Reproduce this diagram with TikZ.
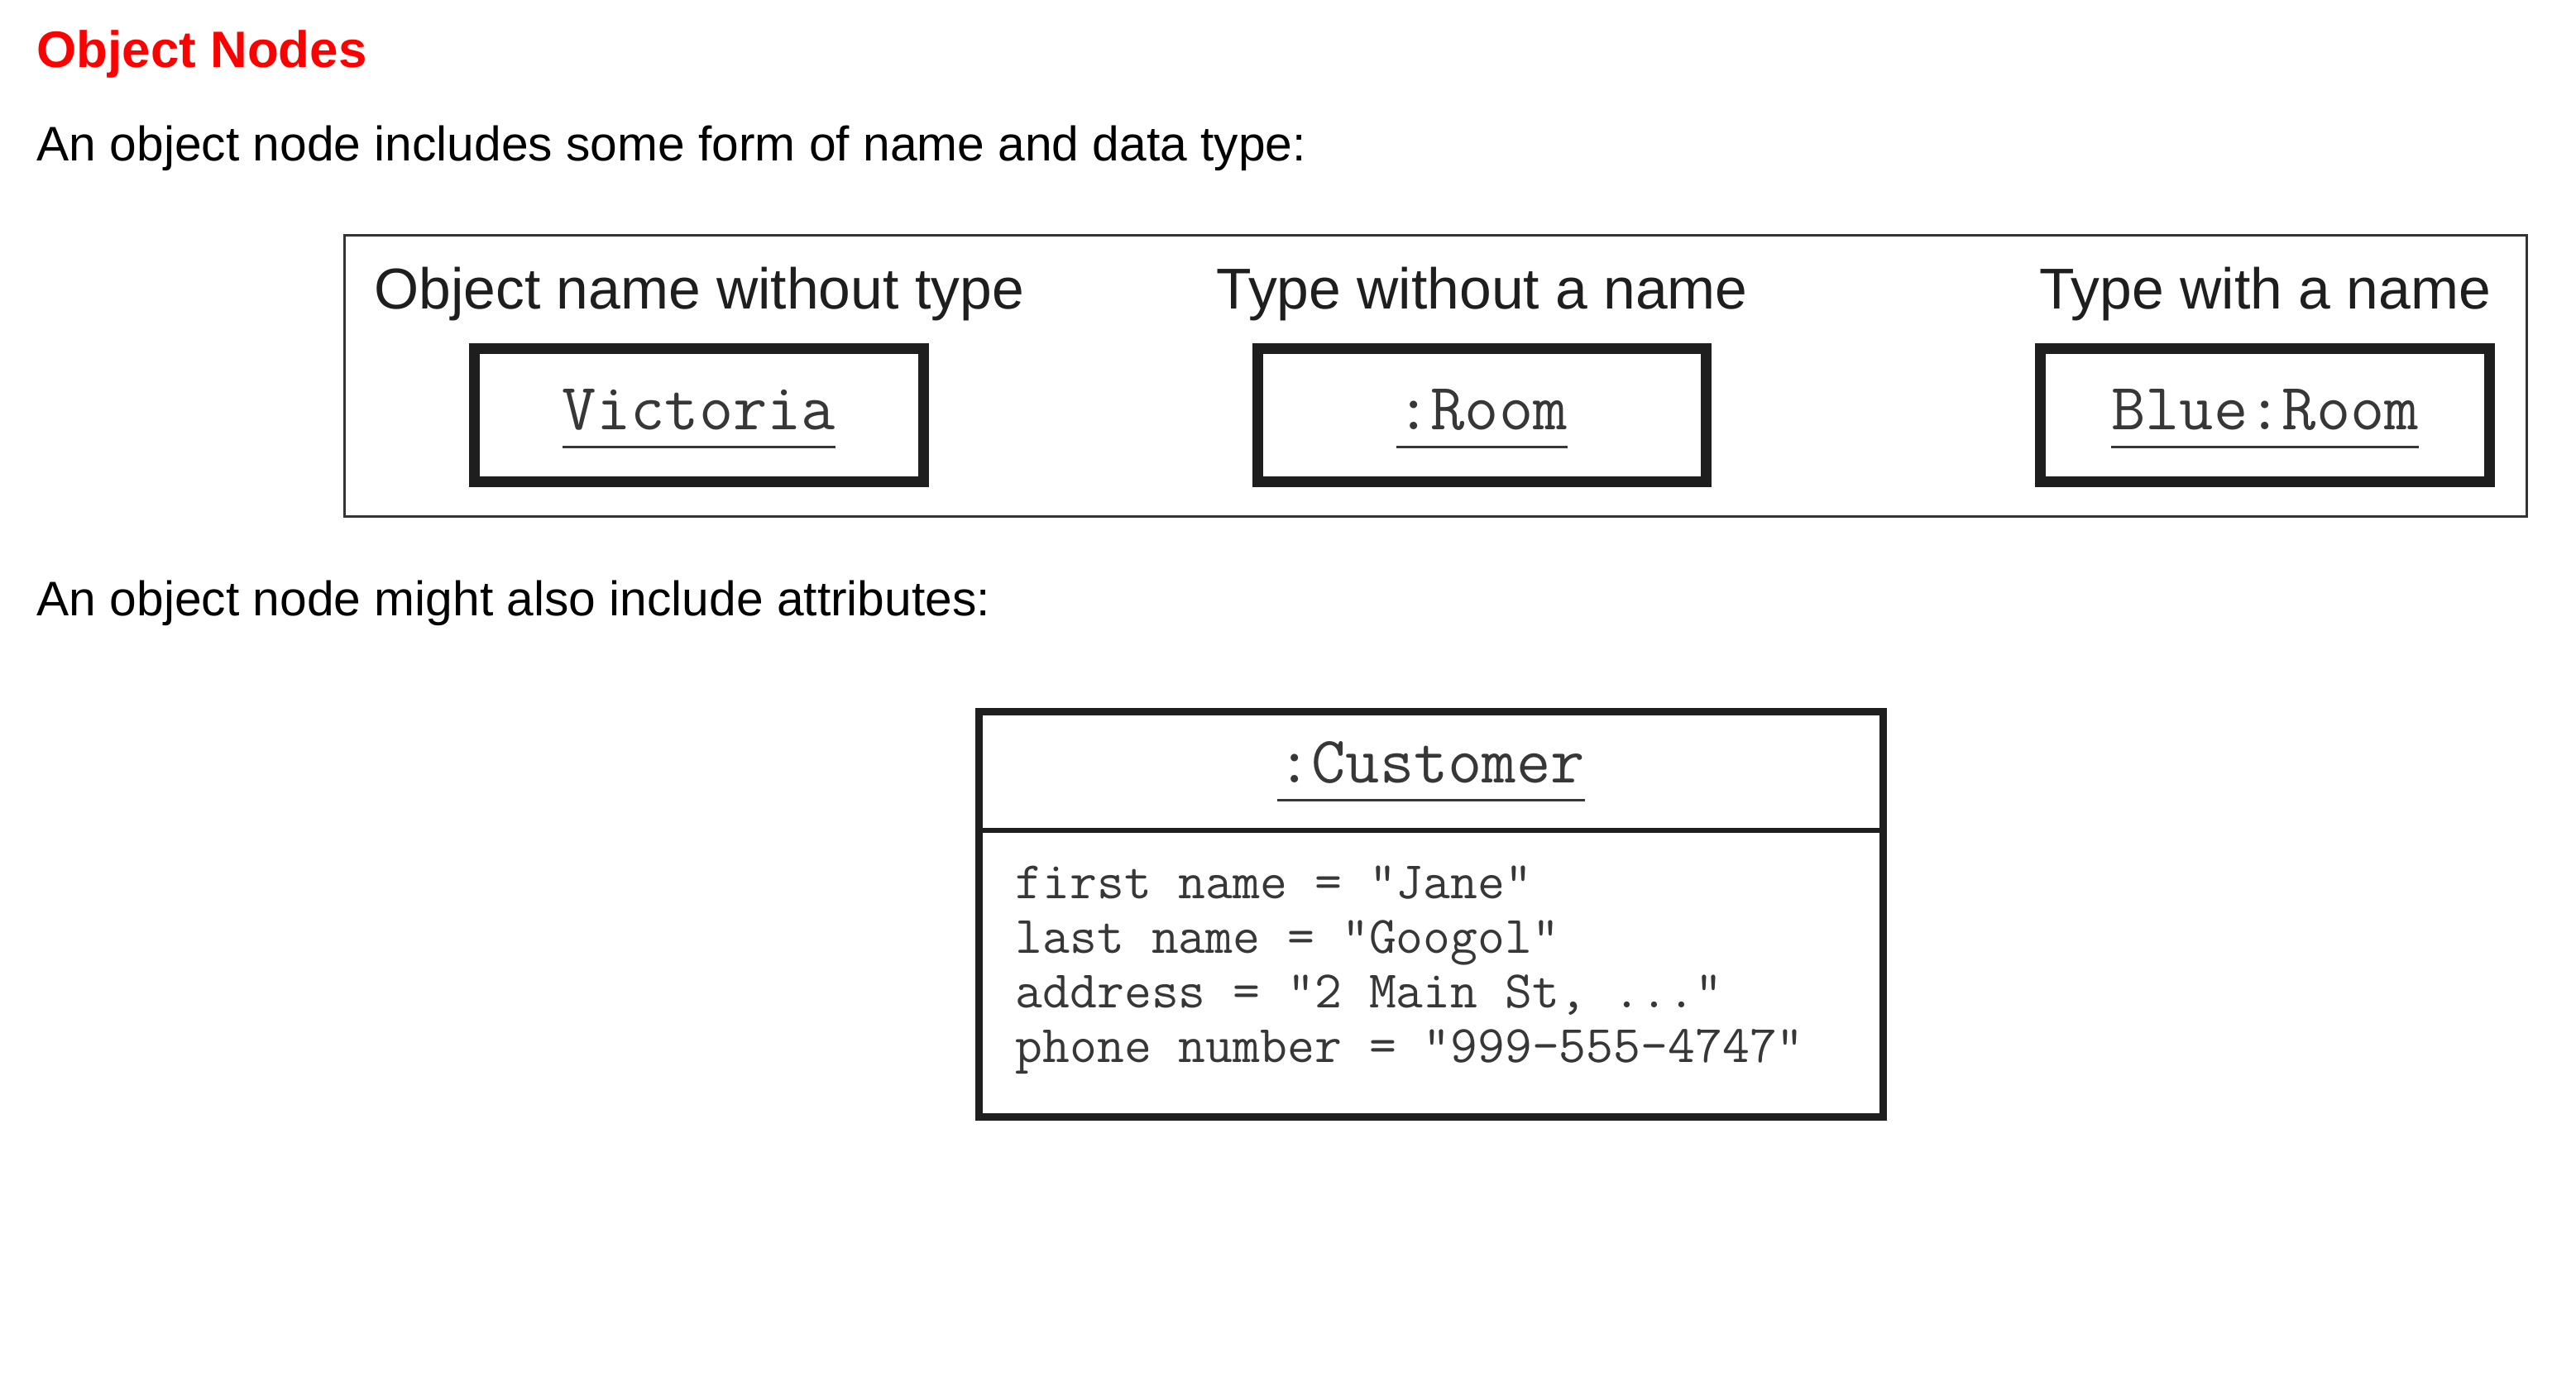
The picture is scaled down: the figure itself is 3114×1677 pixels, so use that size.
\documentclass[tikz,border=0pt]{standalone}
\usepackage{fontspec}
\setmainfont{Liberation Sans}
\usetikzlibrary{positioning}

\definecolor{titlered}{RGB}{255,0,0}
\definecolor{framegray}{RGB}{51,51,51}
\definecolor{ink}{RGB}{30,30,30}
\definecolor{monoink}{RGB}{55,55,55}

% underlined object name, rule a little below the baseline
\newcommand{\objname}[1]{\setbox0\hbox{#1}\rlap{\rule[-0.27em]{\wd0}{0.7pt}}\box0}

\tikzset{
  heading/.style={anchor=base west, inner sep=0pt, text=titlered,
    font=\fontsize{17.6}{21}\selectfont\bfseries},
  para/.style={anchor=base west, inner sep=0pt,
    font=\fontsize{16.7}{20}\selectfont},
  caption/.style={anchor=base, inner sep=0pt, text=ink,
    font=\fontsize{19.8}{24}\selectfont},
  objbox/.style={draw=ink, line width=1.3mm, minimum width=5.42cm,
    minimum height=1.6cm, inner sep=0pt, text height=0.56cm, text depth=0.2cm,
    text=monoink, font=\ttfamily\fontsize{22.8}{26}\selectfont},
  classbox/.style={draw=ink, line width=0.9mm, inner sep=0pt},
  attr/.style={anchor=base west, inner sep=0pt, text=monoink,
    font=\ttfamily\fontsize{18.15}{22}\selectfont},
}

\begin{document}
\begin{tikzpicture}[x=0.01cm, y=-0.01cm, node distance=9.46cm, on grid]
   \path[use as bounding box, fill=white] (0,0) rectangle (3114,1677);

   \node[heading] (title) at (44,82) {Object Nodes};
   \node[para] (intro) at (44,195) {An object node includes some form of name and data type:};

   % the three kinds of object node
   \draw[framegray, line width=0.3mm] (416,285) rectangle (3054,625);
   \node[objbox] (victoria) at (845,502) {\objname{Victoria}};
   \node[objbox] (room) [right=of victoria] {\objname{:Room}};
   \node[objbox] (blueroom) [right=of room] {\objname{Blue:Room}};

   \node[caption] (capA) [above=1.28cm of victoria, anchor=base] {Object name without type};
   \node[caption] (capB) [above=1.28cm of room, anchor=base] {Type without a name};
   \node[caption] (capC) [above=1.28cm of blueroom, anchor=base] {Type with a name};

   \node[para] (more) at (44,745) {An object node might also include attributes:};

   % object with attributes
   \node[classbox, minimum width=10.92cm, minimum height=4.89cm] (customer) at (1730,1105.5) {};
   \coordinate (split) at (0,1004);
   \draw[ink, line width=0.6mm] (customer.west |- split) -- (customer.east |- split);
   \node[anchor=base, inner sep=0pt, text=monoink, font=\ttfamily\fontsize{22.8}{26}\selectfont]
      (custname) at (1730,947) {\objname{:Customer}};

   \foreach \i/\txt in {1/{first name = "Jane"},
                        2/{last name = "Googol"},
                        3/{address = "2 Main St, ..."},
                        4/{phone number = "999-555-4747"}}
      \node[attr] (attr\i) at (1227,1087+66*\i-66) {\txt};
\end{tikzpicture}
\end{document}
